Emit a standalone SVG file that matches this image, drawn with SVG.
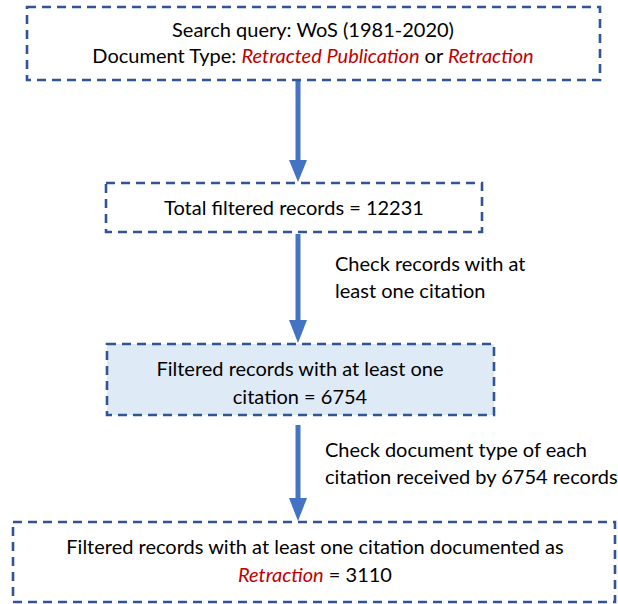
<svg xmlns="http://www.w3.org/2000/svg" width="618" height="604" viewBox="0 0 618 604">
<style>
.box{fill:#ffffff;stroke:#2F5597;stroke-width:2.6;stroke-dasharray:9 6}
.fill{fill:#DEEBF7}
.t{font-family:Lato,"Liberation Sans",sans-serif;font-size:20px;fill:#000000}
.c{text-anchor:middle}
.r{fill:#C00000;font-style:italic}
.shaft{stroke:#4472C4;stroke-width:5;fill:none}
.head{fill:#4472C4}
</style>
<rect width="618" height="604" fill="#ffffff"/>
<g id="connectors">
  <line class="shaft" x1="298" y1="80" x2="298" y2="162"/>
  <polygon class="head" points="289,160 307,160 298,182"/>
  <line class="shaft" x1="298" y1="234" x2="298" y2="322"/>
  <polygon class="head" points="289,320 307,320 298,343"/>
  <line class="shaft" x1="298" y1="425" x2="298" y2="500"/>
  <polygon class="head" points="289,498 307,498 298,521"/>
  <text class="t" x="335" y="271">Check records with at</text>
  <text class="t" x="335" y="298">least one citation</text>
  <text class="t" x="325" y="457">Check document type of each</text>
  <text class="t" x="325" y="484">citation received by 6754 records</text>
</g>
<g id="node1">
  <rect class="box" x="27" y="7" width="573" height="73"/>
  <text class="t c" x="313" y="37">Search query: WoS (1981-2020)</text>
  <text class="t c" x="313" y="63">Document Type: <tspan class="r">Retracted Publication</tspan> or <tspan class="r">Retraction</tspan></text>
</g>
<g id="node2">
  <rect class="box" x="106" y="183" width="376" height="49"/>
  <text class="t c" x="294" y="215">Total filtered records = 12231</text>
</g>
<g id="node3">
  <rect class="box fill" x="107" y="344" width="387" height="71"/>
  <text class="t c" x="300" y="376">Filtered records with at least one</text>
  <text class="t c" x="300" y="404">citation = 6754</text>
</g>
<g id="node4">
  <rect class="box" x="13" y="522" width="602" height="80"/>
  <text class="t c" x="315" y="554">Filtered records with at least one citation documented as</text>
  <text class="t c" x="315" y="582"><tspan class="r">Retraction</tspan> = 3110</text>
</g>
</svg>
